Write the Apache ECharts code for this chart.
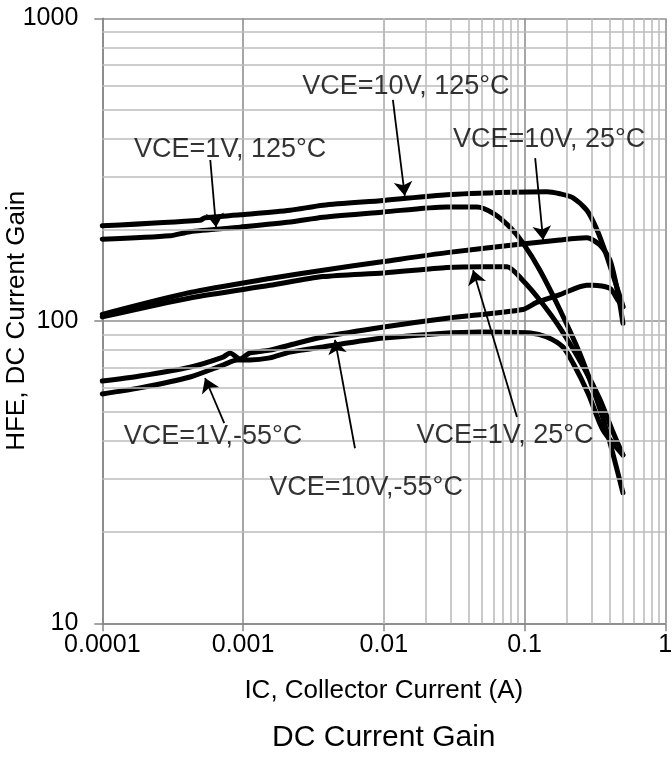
<!DOCTYPE html>
<html>
<head>
<meta charset="utf-8">
<script src="https://cdn.jsdelivr.net/npm/echarts@6/dist/echarts.min.js"></script>
<style>
html,body{margin:0;padding:0;background:#fff;}
#chart{width:672px;height:758px;}
</style>
</head>
<body>
<div id="chart"></div>
<script>
// ---- data (IC in A, HFE) ----
const curve10V125 = [[0.0001,206],[0.000494,215],[0.000537,219],[0.000951,224],[0.00216,232],[0.0037,241],[0.01,250],[0.0281,261],[0.0826,266],[0.144,267],[0.178,263],[0.221,255],[0.277,232],[0.327,200],[0.385,163],[0.453,129],[0.5,112]];
const curve1V125 = [[0.0001,186],[0.000303,191],[0.00042,197],[0.000951,204],[0.00216,212],[0.0037,220],[0.01,229],[0.0281,238],[0.0459,238],[0.0596,227],[0.0787,204],[0.0973,181],[0.1285,147],[0.178,109],[0.247,78],[0.317,57],[0.385,43],[0.5,27]];
const curve10V25 = [[0.0001,105],[0.00042,124],[0.00155,138],[0.0037,147],[0.01,157],[0.0281,168],[0.0826,178],[0.178,185],[0.277,188],[0.343,178],[0.404,159],[0.46,124],[0.5,98]];
const curve1V25 = [[0.0001,103],[0.00042,119],[0.00155,131],[0.0037,140],[0.01,144],[0.0281,150],[0.05,151],[0.075,151],[0.0973,136],[0.1285,117],[0.178,95],[0.264,70],[0.343,55],[0.424,43],[0.5,36]];
const curve10Vm55 = [[0.0001,63.2],[0.000185,65.7],[0.00042,70.3],[0.000721,75.9],[0.000808,78.3],[0.000951,74.8],[0.00112,78.3],[0.00155,80],[0.00216,83.2],[0.0037,88.4],[0.01,95.4],[0.0281,102],[0.0973,109],[0.122,115],[0.178,122],[0.277,131],[0.306,131],[0.404,128],[0.46,117],[0.5,111]];
const curve1Vm55 = [[0.0001,57.3],[0.000185,60],[0.00042,65.2],[0.000721,71.4],[0.000906,74.2],[0.00112,74.2],[0.00155,75.4],[0.00216,78.8],[0.0037,82],[0.01,87.7],[0.0484,91.9],[0.1104,91.2],[0.144,88.4],[0.187,82],[0.221,72.5],[0.283,57.5],[0.36,43.6],[0.5,36]];

// annotation labels: [x, y, text]
const annoLabels = [
  [0.01436, 593, 'VCE=10V, 125°C'],
  [0.00081, 367, 'VCE=1V, 125°C'],
  [0.1496, 396, 'VCE=10V, 25°C'],
  [0.0726, 41.9, 'VCE=1V, 25°C'],
  [0.000612, 41.3, 'VCE=1V,-55°C'],
  [0.00748, 28.2, 'VCE=10V,-55°C']
];
// annotation arrows: [x1, y1, x2(tip), y2(tip)]
const annoArrows = [
  [0.0116, 537, 0.0141, 259],
  [0.000585, 340, 0.000643, 204],
  [0.119, 345, 0.1355, 185],
  [0.0883, 48.1, 0.0431, 147],
  [0.000735, 45.9, 0.000537, 64.7],
  [0.00624, 37.9, 0.0045, 86.5]
];

// minor grid values
const xMinor = [0.0002,0.0003,0.0004,0.0005,0.0006,0.0007,0.0008,0.0009,
                0.002,0.003,0.004,0.005,0.006,0.007,0.008,0.009,
                0.02,0.03,0.04,0.05,0.06,0.07,0.08,0.09,
                0.2,0.3,0.4,0.5,0.6,0.7,0.8,0.9];
const yMinor = [20,30,40,50,60,70,80,90,200,300,400,500,600,700,800,900];

const FONT = '"Liberation Sans", Arial, sans-serif';
const chart = echarts.init(document.getElementById('chart'), null, {renderer:'canvas'});

const curveSeries = [curve10V125, curve1V125, curve10V25, curve1V25, curve10Vm55, curve1Vm55].map((d,i)=>({
  type:'line', name:'c'+i, data:d, showSymbol:false, smooth:0.25,
  lineStyle:{color:'#000', width:5, cap:'round', join:'round'}, z:4, silent:true
}));

const option = {
  animation:false,
  backgroundColor:'#fff',
  grid:{left:102.3, right:6.7, top:18.3, bottom:134.7, containLabel:false, outerBoundsMode:'none'},
  xAxis:{
    type:'log', logBase:10, min:0.0001, max:1,
    axisLine:{show:true, onZero:false, lineStyle:{color:'#868686', width:1.5}},
    axisTick:{show:true, length:8, lineStyle:{color:'#868686', width:1.5}},
    axisLabel:{fontSize:25, color:'#000', fontFamily:FONT, margin:9, hideOverlap:false,
      formatter:v=>String(Number(v.toPrecision(6)))},
    splitLine:{show:true, lineStyle:{color:'#8f8f8f', width:1.6}},
    name:'IC, Collector Current (A)', nameLocation:'middle', nameGap:55, nameMoveOverlap:false,
    nameTextStyle:{fontSize:26, color:'#000', fontFamily:FONT}
  },
  yAxis:{
    type:'log', logBase:10, min:10, max:1000,
    axisLine:{show:true, onZero:false, lineStyle:{color:'#868686', width:1.5}},
    axisTick:{show:true, length:8, lineStyle:{color:'#868686', width:1.5}},
    axisLabel:{fontSize:25, color:'#000', fontFamily:FONT, margin:24,
      formatter:v=>String(Number(v.toPrecision(6)))},
    splitLine:{show:true, lineStyle:{color:'#8f8f8f', width:1.6}},
    name:'HFE, DC Current Gain', nameLocation:'middle', nameGap:72, nameMoveOverlap:false,
    nameTextStyle:{fontSize:26, color:'#000', fontFamily:FONT}
  },
  graphic:[{
    type:'text', x:383.8, y:738,
    style:{text:'DC Current Gain', font:'30px ' + FONT, fill:'#000', textAlign:'center', textVerticalAlign:'middle'}
  }],
  series:[
    {
      type:'line', name:'minor', data:[], z:1, silent:true,
      markLine:{
        silent:true, symbol:'none', animation:false,
        label:{show:false},
        lineStyle:{type:'solid', color:'#bdbdbd', width:1.6},
        data: xMinor.map(v=>({xAxis:v})).concat(yMinor.map(v=>({yAxis:v})))
      }
    },
    ...curveSeries,
    {
      type:'scatter', name:'anno', z:6, silent:true,
      symbolSize:0.1, itemStyle:{color:'transparent'},
      data: annoLabels.map(a=>({value:[a[0],a[1]], name:a[2]})),
      label:{show:true, position:'inside', formatter:'{b}', fontSize:27, color:'#000', fontFamily:FONT},
      markLine:{
        silent:true, symbol:['none','arrow'], symbolSize:14, animation:false,
        label:{show:false},
        lineStyle:{type:'solid', color:'#000', width:1.8},
        data: annoArrows.map(a=>[{coord:[a[0],a[1]]},{coord:[a[2],a[3]]}])
      }
    }
  ]
};
chart.setOption(option);
</script>
</body>
</html>
